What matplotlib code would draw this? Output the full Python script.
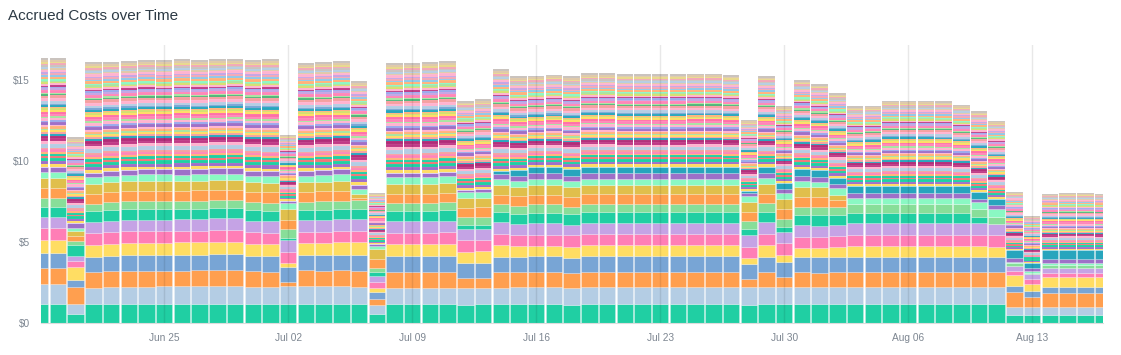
import numpy as np
import pandas as pd
import matplotlib.pyplot as plt
import matplotlib.dates as mdates

plt.rcParams['font.family'] = ['Liberation Sans', 'DejaVu Sans']

days = pd.date_range("2018-06-18", "2018-08-17", freq="D")

# bar totals ($), Jun 18 .. Aug 17
totals = [16.36, 16.38, 11.48, 16.11, 16.15, 16.19, 16.26, 16.23, 16.30, 16.26,
          16.30, 16.34, 16.26, 16.30, 11.63, 16.09, 16.13, 16.17, 14.96, 8.02,
          16.05, 16.09, 16.11, 16.17, 13.72, 13.83, 15.70, 15.25, 15.29, 15.35,
          15.25, 15.45, 15.45, 15.39, 15.39, 15.39, 15.39, 15.41, 15.41, 15.33,
          12.55, 15.27, 13.42, 15.02, 14.77, 14.22, 13.40, 13.42, 13.74, 13.74,
          13.74, 13.72, 13.48, 13.09, 12.49, 8.11, 6.63, 8.00, 8.02, 8.02, 8.00]

# big services at the bottom of each bar
teal_a = [1.19, 1.19, 0.58, 1.19, 1.19, 1.19, 1.19, 1.19, 1.19, 1.19,
          1.19, 1.19, 1.19, 1.19, 1.19, 1.19, 1.19, 1.19, 1.19, 0.58,
          1.19, 1.19, 1.19, 1.19, 1.13, 1.19, 1.19, 1.19, 1.19, 1.19,
          1.13, 1.19, 1.19, 1.19, 1.19, 1.19, 1.19, 1.19, 1.19, 1.19,
          1.13, 1.19, 1.19, 1.19, 1.19, 1.19, 1.19, 1.19, 1.19, 1.19,
          1.19, 1.19, 1.19, 1.19, 1.19, 0.51, 0.51, 0.51, 0.51, 0.51, 0.51]
light_blue = [1.24, 1.24, 0.63, 0.99, 1.05, 1.07, 1.08, 1.09, 1.09, 1.10,
              1.11, 1.11, 1.05, 1.03, 1.09, 1.09, 1.09, 1.10, 1.03, 0.53,
              1.01, 1.01, 1.01, 1.01, 1.03, 0.97, 1.01, 1.03, 1.03, 1.03,
              1.03, 1.03, 1.03, 1.03, 1.03, 1.03, 1.03, 1.03, 1.03, 1.03,
              1.09, 1.03, 1.03, 1.03, 1.03, 1.03, 1.03, 1.03, 1.03, 1.03,
              1.03, 1.03, 1.03, 1.03, 1.03, 0.48, 0.48, 0.48, 0.48, 0.48, 0.48]
orange_a = [0.99, 0.99, 1.01, 0.97, 0.97, 0.97, 0.96, 0.95, 0.97, 0.97,
            0.98, 0.99, 0.97, 0.97, 0.27, 0.99, 0.97, 0.97, 1.03, 0.37,
            0.99, 0.99, 0.99, 0.99, 0.62, 0.62, 0.97, 0.95, 0.97, 0.97,
            0.97, 0.97, 0.97, 0.97, 0.97, 0.97, 0.97, 0.97, 0.97, 0.97,
            0.50, 0.97, 0.62, 0.93, 0.91, 0.93, 0.97, 0.97, 0.97, 0.97,
            0.97, 0.97, 0.97, 0.97, 0.93, 0.92, 0.61, 0.90, 0.90, 0.90, 0.90]
steel_blue = [0.94, 0.94, 0.45, 0.97, 0.95, 0.97, 0.98, 0.99, 0.97, 0.97,
              0.97, 0.97, 0.95, 0.97, 0.93, 0.95, 0.95, 0.97, 0.97, 0.45,
              0.97, 0.97, 0.97, 0.99, 0.92, 0.92, 0.95, 0.93, 0.97, 0.97,
              0.92, 0.97, 0.97, 0.97, 0.97, 0.97, 0.97, 0.97, 0.97, 0.97,
              0.92, 0.93, 0.97, 0.94, 0.94, 0.94, 0.93, 0.93, 0.93, 0.93,
              0.93, 0.93, 0.93, 0.93, 0.92, 0.39, 0.42, 0.37, 0.37, 0.37, 0.37]
yellow_a = [0.78, 0.78, 0.83, 0.74, 0.76, 0.76, 0.76, 0.76, 0.78, 0.78,
            0.78, 0.78, 0.76, 0.74, 0.24, 0.74, 0.76, 0.76, 0.78, 0.25,
            0.74, 0.74, 0.74, 0.74, 0.72, 0.74, 0.72, 0.67, 0.61, 0.61,
            0.68, 0.65, 0.65, 0.65, 0.65, 0.65, 0.65, 0.65, 0.65, 0.65,
            0.37, 0.69, 0.41, 0.58, 0.60, 0.62, 0.65, 0.65, 0.65, 0.65,
            0.65, 0.65, 0.65, 0.65, 0.66, 0.66, 0.41, 0.58, 0.58, 0.58, 0.58]
pink_a = [0.72, 0.72, 0.35, 0.70, 0.70, 0.72, 0.72, 0.72, 0.70, 0.70,
          0.70, 0.70, 0.70, 0.68, 0.70, 0.70, 0.70, 0.70, 0.70, 0.35,
          0.70, 0.70, 0.70, 0.72, 0.72, 0.68, 0.70, 0.70, 0.68, 0.68,
          0.70, 0.68, 0.68, 0.68, 0.68, 0.68, 0.68, 0.68, 0.68, 0.68,
          0.68, 0.70, 0.72, 0.68, 0.66, 0.70, 0.68, 0.68, 0.68, 0.68,
          0.68, 0.68, 0.68, 0.68, 0.70, 0.29, 0.29, 0.29, 0.29, 0.29, 0.29]
lavender = [0.70, 0.70, 0.33, 0.70, 0.70, 0.70, 0.70, 0.70, 0.72, 0.72,
            0.74, 0.74, 0.72, 0.72, 0.70, 0.70, 0.70, 0.72, 0.72, 0.39,
            0.70, 0.70, 0.70, 0.70, 0.68, 0.70, 0.70, 0.68, 0.72, 0.72,
            0.62, 0.72, 0.72, 0.72, 0.72, 0.72, 0.72, 0.72, 0.72, 0.72,
            0.74, 0.72, 0.72, 0.70, 0.68, 0.68, 0.72, 0.72, 0.72, 0.72,
            0.72, 0.72, 0.72, 0.72, 0.70, 0.31, 0.31, 0.31, 0.31, 0.31, 0.31]
teal_b = [0.64, 0.64, 0.68, 0.65, 0.66, 0.66, 0.66, 0.66, 0.64, 0.64,
          0.64, 0.64, 0.65, 0.65, 0.17, 0.66, 0.66, 0.66, 0.64, 0.27,
          0.65, 0.65, 0.65, 0.65, 0.25, 0.25, 0.63, 0.62, 0.66, 0.66,
          0.68, 0.66, 0.66, 0.66, 0.66, 0.66, 0.66, 0.66, 0.66, 0.66,
          0.37, 0.64, 0.31, 0.64, 0.66, 0.62, 0.66, 0.66, 0.66, 0.66,
          0.66, 0.66, 0.66, 0.41, 0.00, 0.00, 0.00, 0.00, 0.00, 0.00, 0.00]
green_a = [0.52, 0.52, 0.24, 0.48, 0.51, 0.51, 0.51, 0.51, 0.51, 0.49,
           0.49, 0.49, 0.50, 0.50, 0.53, 0.49, 0.50, 0.50, 0.55, 0.21,
           0.50, 0.50, 0.50, 0.50, 0.49, 0.51, 0.48, 0.49, 0.52, 0.52,
           0.47, 0.50, 0.50, 0.50, 0.50, 0.50, 0.50, 0.50, 0.50, 0.50,
           0.52, 0.54, 0.47, 0.51, 0.49, 0.49, 0.51, 0.51, 0.51, 0.51,
           0.51, 0.51, 0.51, 0.47, 0.45, 0.15, 0.10, 0.15, 0.15, 0.15, 0.15]
orange_b = [0.61, 0.61, 0.31, 0.61, 0.62, 0.62, 0.62, 0.62, 0.62, 0.64,
            0.64, 0.64, 0.62, 0.64, 0.58, 0.62, 0.62, 0.62, 0.12, 0.60,
            0.55, 0.55, 0.55, 0.57, 0.58, 0.58, 0.60, 0.58, 0.57, 0.57,
            0.62, 0.59, 0.59, 0.59, 0.59, 0.59, 0.59, 0.59, 0.59, 0.59,
            0.57, 0.57, 0.62, 0.62, 0.64, 0.41, 0.00, 0.00, 0.00, 0.00,
            0.00, 0.00, 0.00, 0.00, 0.00, 0.00, 0.00, 0.00, 0.00, 0.00, 0.00]
mustard = [0.62, 0.62, 0.31, 0.60, 0.59, 0.60, 0.60, 0.60, 0.60, 0.60,
           0.60, 0.60, 0.60, 0.59, 0.64, 0.59, 0.60, 0.60, 0.25, 0.57,
           0.60, 0.60, 0.60, 0.60, 0.58, 0.58, 0.58, 0.60, 0.62, 0.62,
           0.62, 0.58, 0.58, 0.58, 0.58, 0.58, 0.58, 0.58, 0.58, 0.58,
           0.62, 0.60, 0.61, 0.58, 0.60, 0.31, 0.00, 0.00, 0.00, 0.00,
           0.00, 0.00, 0.00, 0.00, 0.00, 0.00, 0.00, 0.00, 0.00, 0.00, 0.00]
mint = [0.37, 0.37, 0.15, 0.41, 0.39, 0.40, 0.41, 0.41, 0.39, 0.39,
        0.39, 0.39, 0.40, 0.39, 0.41, 0.40, 0.40, 0.40, 0.33, 0.20,
        0.41, 0.41, 0.41, 0.41, 0.41, 0.39, 0.38, 0.35, 0.37, 0.37,
        0.37, 0.39, 0.39, 0.39, 0.39, 0.39, 0.39, 0.39, 0.39, 0.39,
        0.37, 0.37, 0.35, 0.39, 0.35, 0.41, 0.41, 0.41, 0.41, 0.41,
        0.41, 0.41, 0.41, 0.41, 0.46, 0.10, 0.08, 0.12, 0.12, 0.12, 0.12]
purple_a = [0.33, 0.33, 0.30, 0.29, 0.33, 0.31, 0.31, 0.31, 0.33, 0.33,
            0.33, 0.33, 0.31, 0.31, 0.10, 0.30, 0.31, 0.31, 0.25, 0.11,
            0.27, 0.27, 0.27, 0.29, 0.10, 0.14, 0.29, 0.30, 0.35, 0.35,
            0.31, 0.33, 0.33, 0.33, 0.33, 0.33, 0.33, 0.33, 0.33, 0.33,
            0.19, 0.31, 0.25, 0.30, 0.30, 0.25, 0.31, 0.31, 0.31, 0.31,
            0.31, 0.31, 0.31, 0.21, 0.29, 0.25, 0.20, 0.25, 0.25, 0.25, 0.25]
dark_cyan = [0.00, 0.00, 0.00, 0.00, 0.00, 0.00, 0.00, 0.00, 0.00, 0.00,
             0.00, 0.00, 0.00, 0.00, 0.00, 0.00, 0.00, 0.00, 0.00, 0.00,
             0.00, 0.00, 0.00, 0.00, 0.00, 0.00, 0.20, 0.38, 0.37, 0.37,
             0.39, 0.41, 0.41, 0.41, 0.41, 0.41, 0.41, 0.41, 0.41, 0.41,
             0.12, 0.41, 0.41, 0.42, 0.41, 0.41, 0.41, 0.41, 0.41, 0.41,
             0.41, 0.41, 0.41, 0.41, 0.34, 0.45, 0.30, 0.57, 0.57, 0.57, 0.57]

major = [
    (teal_a, '#20cfa3'), (light_blue, '#b4cde4'), (orange_a, '#ff9f4f'),
    (steel_blue, '#78a5d5'), (yellow_a, '#ffdd63'), (pink_a, '#ff7eb6'),
    (lavender, '#c5a3e5'), (teal_b, '#20cfa3'), (green_a, '#88de99'),
    (orange_b, '#ff9f4f'), (mustard, '#e0bf4c'), (mint, '#8af8c3'),
    (purple_a, '#9e70c8'), (dark_cyan, '#27a5bd'),
]

# the many small services on top: colour and typical relative size
small_colors = ['#ffdd63', '#9e70c8', '#20cfa3', '#ee7777', '#20cfa3', '#ffb27a',
                '#ff86b8', '#f5a0a0', '#b4cde4', '#ffb3cf', '#c03a86', '#b02c78',
                '#27a5bd', '#f5a0a0', '#ffdd63', '#a8e4a0', '#ffb27a', '#ffb3cf',
                '#9e70c8', '#9aa8ec', '#ffb3cf', '#a8e4a0', '#ff86b8', '#ff6fa6',
                '#ffdd63', '#d4e06e', '#ffb27a', '#27a5bd', '#78a5d5', '#b4cde4',
                '#ffb3cf', '#f5a0a0', '#4fb478', '#a8e4a0', '#ff86b8', '#c5a3e5',
                '#9aa8ec', '#c03a86', '#ffb3cf', '#d4e06e', '#a8e4a0', '#8af8c3',
                '#ffb27a', '#8fc7e8', '#f2a7b6', '#c5a3e5', '#ffb3cf', '#e0c8a8',
                '#b4cde4', '#c9c2bd', '#f2a7b6', '#e8d88a', '#e0c8a8', '#c9c2bd']
small_sizes = [8, 9, 9, 6, 7, 6,
               7, 5, 12, 8, 8, 8,
               6, 5, 6, 4, 6, 5,
               8, 5, 8, 4, 8, 6,
               6, 4, 4, 6, 4, 8,
               8, 8, 4, 4, 8, 6,
               4, 4, 6, 4, 4, 4,
               7, 5, 5, 4, 7, 4,
               5, 5, 5, 4, 6, 6]

x = mdates.date2num(days)
tot = np.array(totals)

fig = plt.figure(figsize=(11.21, 3.55), dpi=100)
ax = fig.add_axes([41 / 1121, 1 - 323.3 / 355, 1062 / 1121, 278.3 / 355])

bottom = np.zeros(len(x))
for vals, col in major:
    v = np.array(vals)
    ax.bar(x, v, bottom=bottom, width=0.93, color=col,
           edgecolor=(1, 1, 1, 0.35), linewidth=0.4, zorder=2)
    bottom += v

rest = tot - bottom
w = np.array(small_sizes, dtype=float)
for size, col in zip(w, small_colors):
    h = rest * size / w.sum()
    ax.bar(x, h, bottom=bottom, width=0.93, color=col,
           edgecolor=(1, 1, 1, 0.2), linewidth=0.2, zorder=2)
    bottom += h

ticks = pd.date_range("2018-06-25", "2018-08-13", freq="7D")
for t in mdates.date2num(ticks):
    ax.axvline(t, color='black', alpha=0.09, lw=1, zorder=5)

ax.set_xlim(mdates.date2num(pd.Timestamp("2018-06-18 01:00")),
            mdates.date2num(pd.Timestamp("2018-08-17 00:00")))
ax.set_ylim(0, 17.18)
ax.set_xticks(mdates.date2num(ticks))
ax.set_xticklabels([t.strftime("%b %d") for t in ticks])
ax.set_yticks([0, 5, 10, 15])
ax.set_yticklabels(["$0", "$5", "$10", "$15"])
ax.tick_params(length=0, labelsize=7.3, labelcolor='#7d8691')
ax.tick_params(axis='x', pad=7)
ax.tick_params(axis='y', pad=8)

for s in ['top', 'right', 'left']:
    ax.spines[s].set_visible(False)
ax.spines['bottom'].set_color('#dddddd')

fig.text(8 / 1121, 1 - 20 / 355, "Accrued Costs over Time", fontsize=11,
         color='#2d3a45', va='baseline', ha='left')

fig.savefig("out.png", dpi=100)
